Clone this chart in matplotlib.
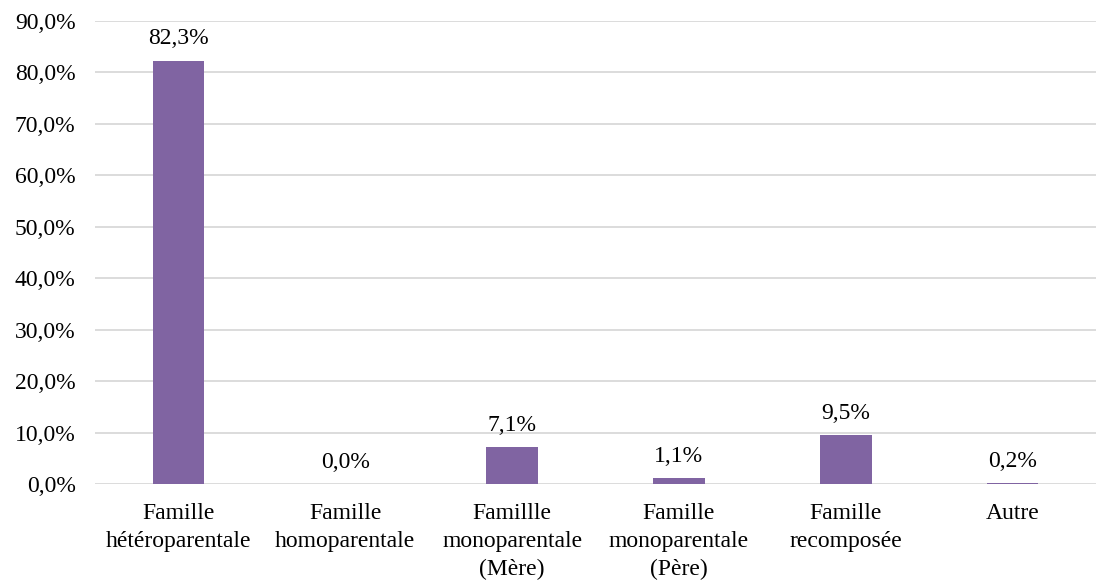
import matplotlib
matplotlib.use("Agg")
import matplotlib.pyplot as plt
from matplotlib.ticker import FuncFormatter

categories = ["Famille\nhétéroparentale", "Famille\nhomoparentale", "Famillle\nmonoparentale\n(Mère)",
              "Famille\nmonoparentale\n(Père)", "Famille\nrecomposée", "Autre"]
values = [82.3, 0.0, 7.1, 1.1, 9.5, 0.2]
yticks = [0, 10, 20, 30, 40, 50, 60, 70, 80, 90]

plt.rcParams['font.family'] = ['Liberation Serif', 'DejaVu Serif']

fig = plt.figure(figsize=(10.96, 5.81), dpi=100)
ax = fig.add_axes([0.0867, 0.167, 0.9133, 0.797])

x = list(range(len(categories)))
bars = ax.bar(x, values, width=0.31, color="#8064A2", zorder=3)
for xi, v in zip(x, values):
    ax.text(xi, v + 2.2, f"{v:.1f}%".replace(".", ","), ha="center", va="bottom", fontsize=17)

ax.set_xlim(-0.5, len(categories) - 0.5)
ax.set_ylim(0, 90)
ax.set_yticks(yticks)
ax.yaxis.set_major_formatter(FuncFormatter(lambda v, p: f"{v:.1f}%".replace(".", ",")))
ax.set_xticks(x)
ax.set_xticklabels(categories, fontsize=17, linespacing=1.42)
ax.tick_params(axis="y", labelsize=17, length=0, pad=14)
ax.tick_params(axis="x", length=0, pad=14)
ax.grid(axis="y", color="#D9D9D9", linewidth=1.3, zorder=0)
for s in ax.spines.values():
    s.set_visible(False)

fig.savefig("out.png", dpi=100)
